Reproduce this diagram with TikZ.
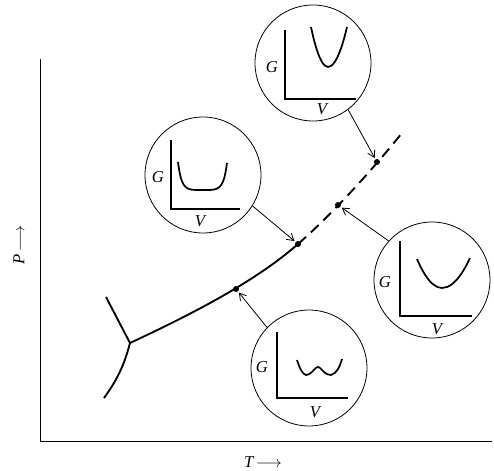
\documentclass[tikz,border=0pt]{standalone}
\usepackage{fontspec}
\setmainfont{Liberation Serif}
\usetikzlibrary{arrows.meta}
\begin{document}
\begin{tikzpicture}[x=0.75pt,y=-0.75pt,
  bubble/.style={circle,draw,line width=0.6pt,minimum size=87pt,inner sep=0pt},
  dotn/.style={circle,fill,inner sep=0pt,minimum size=4.5pt},
  arr/.style={line width=0.6pt,-{Straight Barb[length=5pt,width=6pt]},shorten >=1pt},
  phase/.style={line width=1.4pt},
  miniax/.style={line width=0.8pt},
  minicurve/.style={line width=1.3pt},
  lbl/.style={inner sep=0pt,font=\fontsize{12.5}{14}\selectfont\itshape}]
\useasboundingbox (0,0) rectangle (494,471);
% main axes
\coordinate (ytop) at (40,59);
\coordinate (orig) at (40,441);
\coordinate (xend) at (492,441);
\draw[line width=0.7pt] (ytop) -- (orig) -- (xend);
\node[lbl,rotate=90] (plab) at (19,245) {P\,$\longrightarrow$};
\node[lbl] (tlab) at (263,462) {T\,$\longrightarrow$};
% phase boundaries
\coordinate (tp) at (130,343);
\coordinate (ul) at (106,297);
\coordinate (ll) at (104,398);
\coordinate (mid) at (298,244);
\coordinate (top) at (402,133);
\draw[phase] (ul) -- (tp);
\draw[phase] (tp) .. controls (124,366) and (117,380) .. (ll);
\draw[phase] (tp) .. controls (190,315) and (255,282) .. (mid);
\draw[phase,dash pattern=on 8pt off 5pt] (mid) .. controls (320,225) and (360,185) .. (top);
% points
\node[dotn] (d1) at (236,289) {};
\node[dotn] (d2) at (298,244) {};
\node[dotn] (d3) at (338,205) {};
\node[dotn] (d4) at (377,162) {};
% bubbles
\node[bubble] (c1) at (313,63) {};
\node[bubble] (c2) at (203,175) {};
\node[bubble] (c3) at (432,280) {};
\node[bubble] (c4) at (309,368) {};
% arrows
\draw[arr] (c1.-53) -- (d4);
\draw[arr] (c2.-32) -- (d2);
\draw[arr] (c3.138) -- (d3);
\draw[arr] (c4.136) -- (d1);
% bubble 1
\draw[miniax] (285,30) -- (285,99) -- (356,99);
\node[lbl] (g1) at (272,67) {G};
\node[lbl] (v1) at (322,109) {V};
\draw[minicurve] (311,27) parabola bend (328,67) (347,27);
% bubble 2
\draw[miniax] (171,140) -- (171,209) -- (240,209);
\node[lbl] (g2) at (158,177) {G};
\node[lbl] (v2) at (200,221) {V};
\draw[minicurve] (178,162) .. controls (181,185) and (184,190) .. (196,190) -- (209,190) .. controls (221,190) and (224,185) .. (227,163);
% bubble 3
\draw[miniax] (400,241) -- (400,316) -- (472,316);
\node[lbl] (g3) at (385,282) {G};
\node[lbl] (v3) at (437,329) {V};
\draw[minicurve] (417,259) parabola bend (442,288) (470,258);
% bubble 4
\draw[miniax] (277,332) -- (277,398) -- (348,398);
\node[lbl] (g4) at (262,367) {G};
\node[lbl] (v4) at (315,412) {V};
\draw[minicurve] plot[smooth,tension=0.7] coordinates {(297,360) (301,370) (306,375) (312,372) (318,367) (324,372) (331,375) (338,369) (342,359)};
\end{tikzpicture}
\end{document}
